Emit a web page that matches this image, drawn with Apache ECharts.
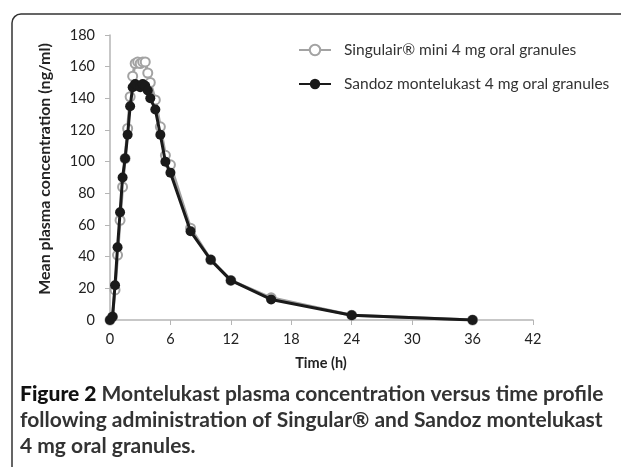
<!DOCTYPE html>
<html><head><meta charset="utf-8">
<script src="https://cdn.jsdelivr.net/npm/echarts@6/dist/echarts.min.js"></script>
<style>html,body{margin:0;padding:0;background:#fff}#c{width:621px;height:467px}</style>
</head><body><div id="c"></div>
<script>
const times = [0, 0.25, 0.5, 0.75, 1, 1.25, 1.5, 1.75, 2, 2.25, 2.5, 2.75, 3, 3.25, 3.5, 3.75, 4, 4.5, 5, 5.5, 6, 8, 10, 12, 16, 24, 36];
const singulair = [0, 2, 19, 41, 63, 84, 102, 121, 141, 154, 162, 163, 162, 163, 163, 156, 150, 139, 122, 104, 98, 58, 38, 25, 14, 3, 0];
const sandoz = [0, 2, 22, 46, 68, 90, 102, 117, 135, 147, 149, 148, 147, 149, 148, 145, 140, 133, 117, 100, 93, 56, 38, 25, 13, 3, 0];
const seriesNames = ['Singulair® mini 4 mg oral granules', 'Sandoz montelukast 4 mg oral granules'];
const xTitle = 'Time (h)';
const yTitle = 'Mean plasma concentration (ng/ml)';
const captionBold = 'Figure 2';
const captionLines = [' Montelukast plasma concentration versus time profile', 'following administration of Singular® and Sandoz montelukast', '4 mg oral granules.'];

const pair = (xs, ys) => xs.map((x, i) => [x, ys[i]]);
const F = 'Lato, "Open Sans", sans-serif';
const chart = echarts.init(document.getElementById('c'), null, {renderer: 'canvas'});
chart.setOption({
  animation: false,
  backgroundColor: '#fff',
  textStyle: {fontFamily: F},
  grid: {left: 110, right: 88, top: 35, bottom: 147, containLabel: false},
  legend: {
    orient: 'vertical', left: 293, top: 37, itemGap: 18, itemWidth: 32, itemHeight: 13,
    textStyle: {fontFamily: F, fontSize: 15.5, color: '#333', padding: [0, 0, 0, 8]},
    data: seriesNames
  },
  xAxis: {
    type: 'value', min: 0, max: 42, interval: 6,
    axisLine: {lineStyle: {color: '#b5b5b5', width: 1.5}},
    axisTick: {show: true, length: 5, lineStyle: {color: '#b5b5b5'}},
    axisLabel: {fontSize: 14.5, color: '#222', margin: 12, fontFamily: F},
    splitLine: {show: false}
  },
  yAxis: {
    type: 'value', min: 0, max: 180, interval: 20,
    axisLine: {show: true, lineStyle: {color: '#b5b5b5', width: 1.5}},
    axisTick: {show: true, length: 5, lineStyle: {color: '#b5b5b5'}},
    axisLabel: {fontSize: 14.5, color: '#222', margin: 15, fontFamily: F},
    splitLine: {show: false}
  },
  series: [
    {
      name: seriesNames[0], type: 'line', data: pair(times, singulair),
      symbol: 'emptyCircle', symbolSize: 9,
      lineStyle: {color: '#a3a3a3', width: 3},
      itemStyle: {color: '#a3a3a3', borderColor: '#9a9a9a', borderWidth: 1.6}, z: 2
    },
    {
      name: seriesNames[1], type: 'line', data: pair(times, sandoz),
      symbol: 'circle', symbolSize: 10,
      lineStyle: {color: '#1a1a1a', width: 3},
      itemStyle: {color: '#1a1a1a'}, z: 3
    }
  ],
  graphic: [
    {type: 'rect', shape: {x: 12, y: 14, width: 700, height: 500, r: 9}, style: {fill: 'none', stroke: '#333', lineWidth: 1.5}, silent: true},
    {type: 'text', x: 45, y: 169, rotation: Math.PI / 2, style: {text: yTitle, font: 'bold 16px ' + F, fill: '#222', align: 'center', verticalAlign: 'middle'}},
    {type: 'text', x: 321, y: 363, style: {text: xTitle, font: 'bold 14.5px ' + F, fill: '#222', align: 'center', verticalAlign: 'middle'}},
    {type: 'text', left: 20, top: 384, style: {
      text: '{b|' + captionBold + '}{n|' + captionLines[0] + '}\n{n|' + captionLines[1] + '}\n{n|' + captionLines[2] + '}',
      rich: {
        b: {font: '900 21px ' + F, fill: '#111', lineHeight: 26},
        n: {font: 'bold 21px ' + F, fill: '#333', lineHeight: 26}
      }
    }}
  ]
});
</script></body></html>
